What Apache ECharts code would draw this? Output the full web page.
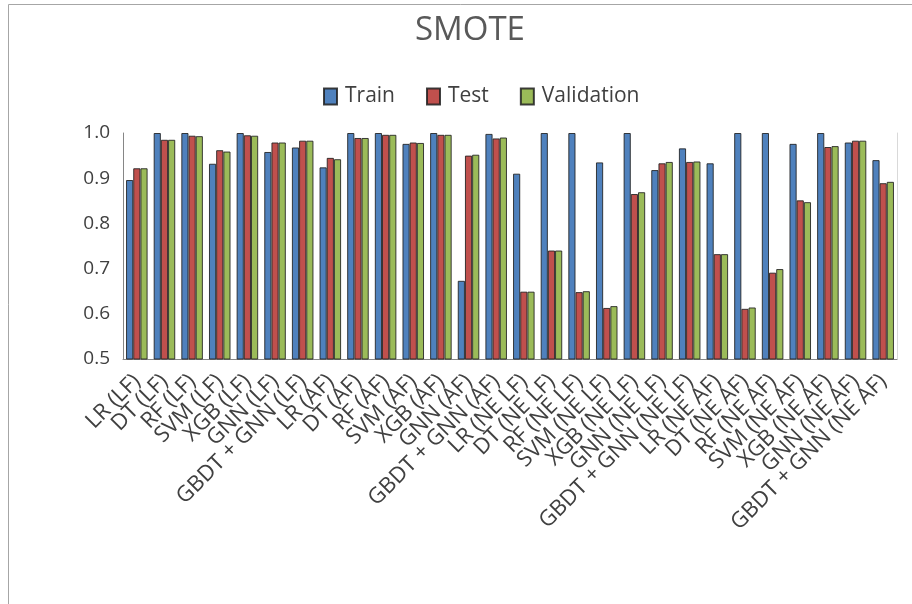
<!DOCTYPE html>
<html>
<head>
<meta charset="utf-8">
<script src="https://cdn.jsdelivr.net/npm/echarts@6/dist/echarts.min.js"></script>
<style>
  html, body { margin: 0; padding: 0; background: #ffffff; }
  #chart { width: 912px; height: 604px; }
</style>
</head>
<body>
<div id="chart"></div>
<script>
// Model categories (feature sets: LF, AF, NE LF, NE AF)
const categories = [
  'LR (LF)', 'DT (LF)', 'RF (LF)', 'SVM (LF)', 'XGB (LF)', 'GNN (LF)', 'GBDT + GNN (LF)',
  'LR (AF)', 'DT (AF)', 'RF (AF)', 'SVM (AF)', 'XGB (AF)', 'GNN (AF)', 'GBDT + GNN (AF)',
  'LR (NE LF)', 'DT (NE LF)', 'RF (NE LF)', 'SVM (NE LF)', 'XGB (NE LF)', 'GNN (NE LF)', 'GBDT + GNN (NE LF)',
  'LR (NE AF)', 'DT (NE AF)', 'RF (NE AF)', 'SVM (NE AF)', 'XGB (NE AF)', 'GNN (NE AF)', 'GBDT + GNN (NE AF)'
];

const trainScores = [
  0.896, 1.000, 1.000, 0.932, 1.000, 0.958, 0.968,
  0.924, 1.000, 1.000, 0.976, 1.000, 0.673, 0.998,
  0.910, 1.000, 1.000, 0.935, 1.000, 0.918, 0.966,
  0.933, 1.000, 1.000, 0.976, 1.000, 0.979, 0.940
];

const testScores = [
  0.922, 0.985, 0.994, 0.962, 0.995, 0.979, 0.983,
  0.945, 0.989, 0.996, 0.979, 0.996, 0.950, 0.988,
  0.649, 0.740, 0.648, 0.613, 0.865, 0.933, 0.936,
  0.732, 0.611, 0.691, 0.851, 0.969, 0.983, 0.889
];

const validationScores = [
  0.922, 0.985, 0.993, 0.959, 0.994, 0.979, 0.983,
  0.942, 0.989, 0.996, 0.978, 0.996, 0.952, 0.990,
  0.649, 0.740, 0.650, 0.617, 0.869, 0.936, 0.937,
  0.732, 0.614, 0.699, 0.847, 0.971, 0.983, 0.892
];

const yTicks = { min: 0.5, max: 1.0, step: 0.1 };

const FONT = '"Open Sans", "DejaVu Sans", sans-serif';
const seriesDefs = [
  { name: 'Train', data: trainScores, color: '#4F81BD' },
  { name: 'Test', data: testScores, color: '#C0504D' },
  { name: 'Validation', data: validationScores, color: '#9BBB59' }
];

const chart = echarts.init(document.getElementById('chart'), null, { renderer: 'canvas' });

chart.setOption({
  backgroundColor: '#ffffff',
  animation: false,
  title: {
    text: 'SMOTE',
    left: 410,
    top: 9,
    textStyle: { fontFamily: FONT, fontSize: 33, fontWeight: 'normal', color: '#595959' }
  },
  legend: {
    top: 81,
    left: 318,
    icon: 'rect',
    itemWidth: 13,
    itemHeight: 16,
    itemGap: 31,
    textStyle: { fontFamily: FONT, fontSize: 21, color: '#404040', padding: [0, 0, 0, 3] },
    data: seriesDefs.map(s => s.name)
  },
  graphic: [
    { type: 'line', shape: { x1: 8.5, y1: 4.5, x2: 912, y2: 4.5 }, style: { stroke: '#A6A6A6', lineWidth: 1 } },
    { type: 'line', shape: { x1: 8.5, y1: 4.5, x2: 8.5, y2: 604 }, style: { stroke: '#A6A6A6', lineWidth: 1 } }
  ],
  grid: { left: 123, right: 15, top: 133, bottom: 245, containLabel: false },
  xAxis: {
    type: 'category',
    data: categories,
    axisLine: { lineStyle: { color: '#868686', width: 1 } },
    axisTick: { show: false },
    axisLabel: {
      rotate: 45,
      interval: 0,
      margin: 19,
      fontFamily: FONT,
      fontSize: 22,
      color: '#404040'
    }
  },
  yAxis: [
    {
      type: 'value',
      min: yTicks.min,
      max: yTicks.max,
      interval: yTicks.step,
      axisLine: { show: true, lineStyle: { color: '#868686', width: 1 } },
      axisTick: { show: false },
      splitLine: { show: false },
      axisLabel: {
        margin: 13,
        fontFamily: FONT,
        fontSize: 19,
        color: '#404040',
        formatter: v => v.toFixed(1)
      }
    },
    {
      type: 'value',
      position: 'right',
      min: yTicks.min,
      max: yTicks.max,
      interval: yTicks.step,
      axisLine: { show: true, lineStyle: { color: '#D9D9D9', width: 1 } },
      axisTick: { show: false },
      axisLabel: { show: false },
      splitLine: { show: false }
    }
  ],
  series: seriesDefs.map(s => ({
    name: s.name,
    type: 'bar',
    data: s.data,
    barGap: '0%',
    barCategoryGap: '22%',
    itemStyle: { color: s.color, borderColor: 'rgba(30,30,30,0.85)', borderWidth: 1 }
  }))
});
</script>
</body>
</html>
